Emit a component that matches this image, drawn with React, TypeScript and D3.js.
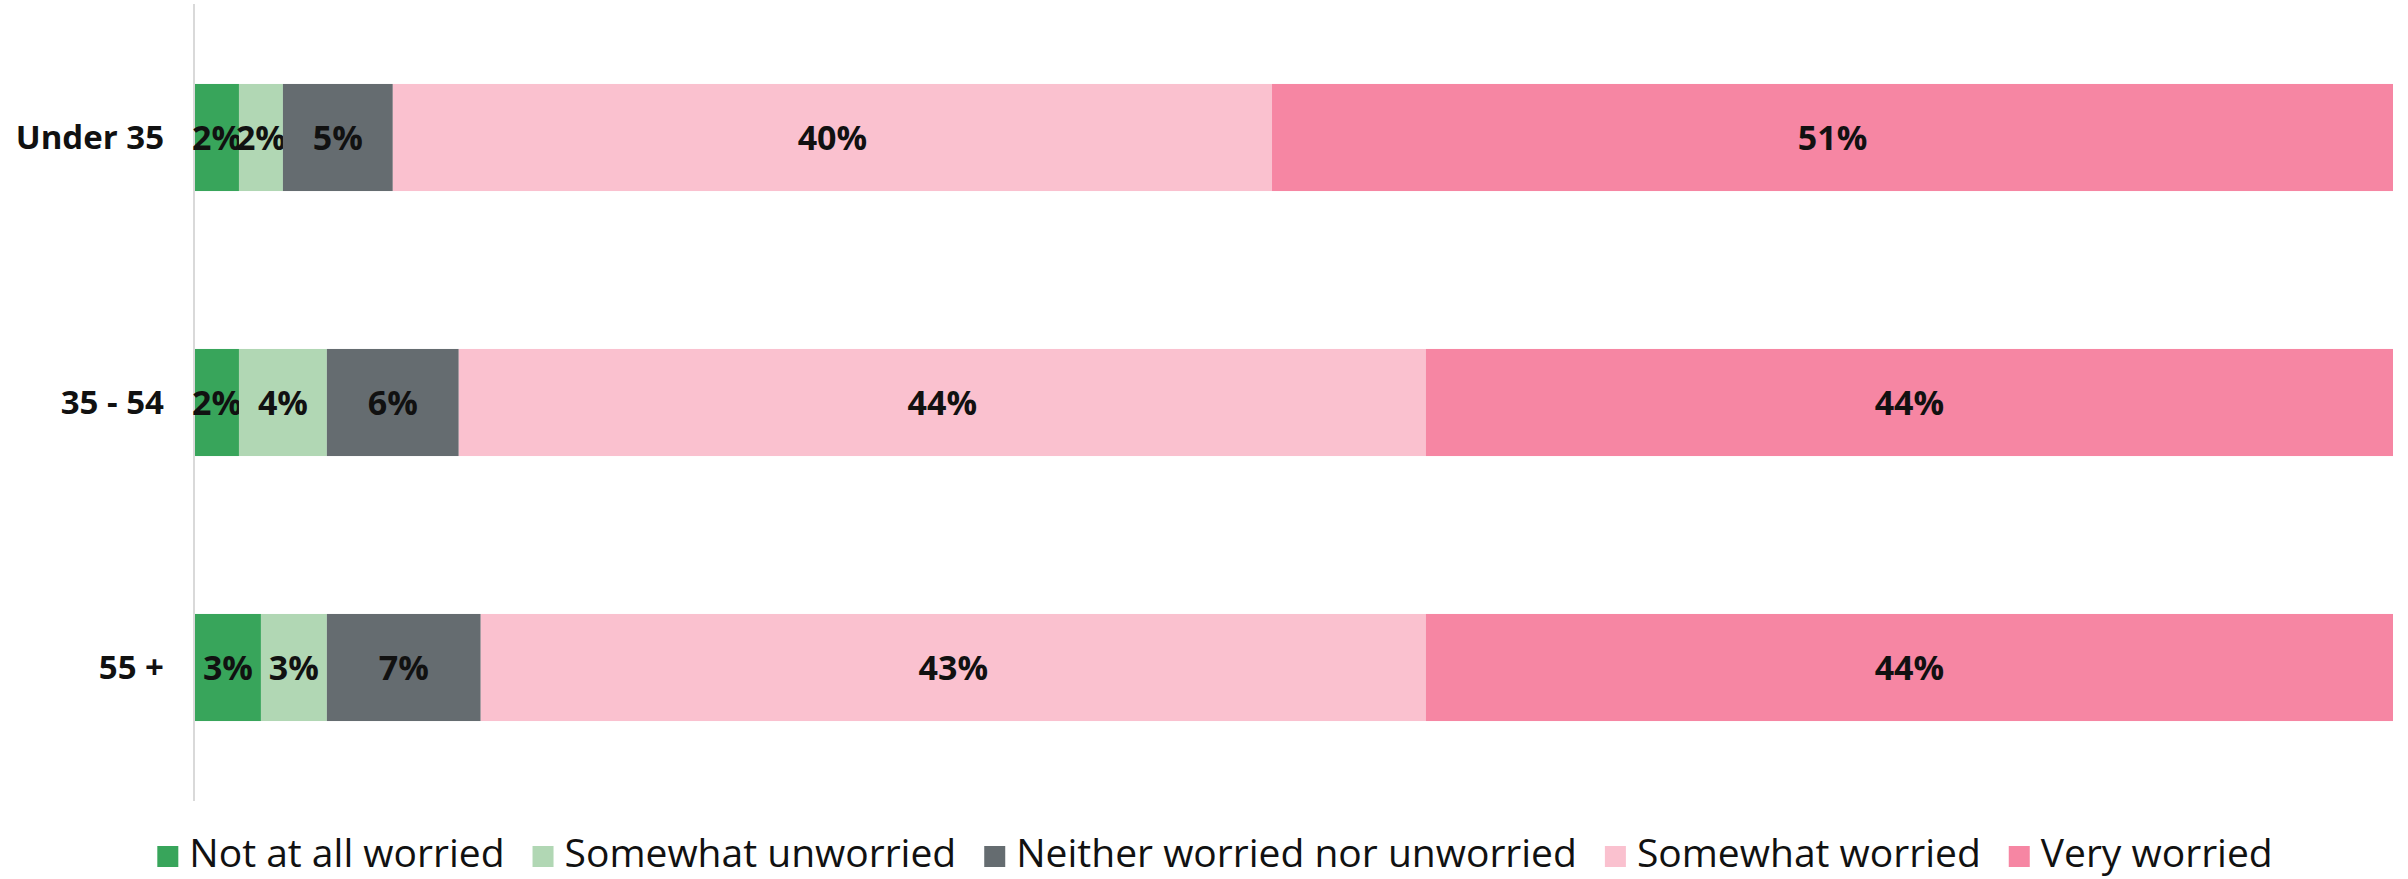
import React, { useEffect, useRef } from "react";
import * as d3 from "d3";

const categories = ["Under 35", "35 - 54", "55 +"];
const seriesNames = [
  "Not at all worried",
  "Somewhat unworried",
  "Neither worried nor unworried",
  "Somewhat worried",
  "Very worried",
];
const notAtAll = [2, 2, 3];
const somewhatUnworried = [2, 4, 3];
const neither = [5, 6, 7];
const somewhatWorried = [40, 44, 43];
const veryWorried = [51, 44, 44];
const colors = ["#38a55b", "#b1d7b4", "#656c70", "#fac1cf", "#f686a3"];

const W = 2408;
const H = 879;

export default function App() {
  const ref = useRef<SVGSVGElement>(null);
  useEffect(() => {
    const svg = d3.select(ref.current);
    svg.selectAll("*").remove();
    const series = [notAtAll, somewhatUnworried, neither, somewhatWorried, veryWorried];
    const x = d3.scaleLinear().domain([0, 100]).range([195, 2393]);
    const y = d3
      .scaleBand<string>()
      .domain(categories)
      .range([5, 800])
      .paddingInner(0.596)
      .paddingOuter(0.298);

    svg
      .append("line")
      .attr("x1", 194)
      .attr("x2", 194)
      .attr("y1", 4)
      .attr("y2", 801)
      .attr("stroke", "#d9d9d9")
      .attr("stroke-width", 2);

    categories.forEach((cat, ci) => {
      let acc = 0;
      series.forEach((s, si) => {
        const v = s[ci];
        const x0 = x(acc);
        const x1 = x(acc + v);
        acc += v;
        svg
          .append("rect")
          .attr("x", x0)
          .attr("y", y(cat)!)
          .attr("width", x1 - x0)
          .attr("height", y.bandwidth())
          .attr("fill", colors[si]);
        svg
          .append("text")
          .attr("x", (x0 + x1) / 2)
          .attr("y", y(cat)! + y.bandwidth() / 2)
          .attr("dy", "0.36em")
          .attr("text-anchor", "middle")
          .attr("font-family", "'Open Sans', sans-serif")
          .attr("font-weight", 700)
          .attr("font-size", 34)
          .attr("fill", "#111")
          .text(v + "%");
      });
      svg
        .append("text")
        .attr("x", 164)
        .attr("y", y(cat)! + y.bandwidth() / 2)
        .attr("dy", "0.36em")
        .attr("text-anchor", "end")
        .attr("font-family", "'Open Sans', sans-serif")
        .attr("font-weight", 700)
        .attr("font-size", 33)
        .attr("fill", "#111")
        .text(cat);
    });

    const lg = svg.append("g");
    let cx = 0;
    seriesNames.forEach((name, i) => {
      const g = lg.append("g").attr("transform", `translate(${cx},0)`);
      g.append("rect")
        .attr("x", 0)
        .attr("y", 846)
        .attr("width", 21)
        .attr("height", 21)
        .attr("fill", colors[i]);
      const t = g
        .append("text")
        .attr("x", 32)
        .attr("y", 867)
        .attr("font-family", "'Open Sans', sans-serif")
        .attr("font-size", 39)
        .attr("fill", "#111")
        .text(name);
      const w = (t.node() as SVGTextElement).getComputedTextLength();
      cx += 32 + w + 28;
    });
    const total = cx - 28;
    lg.attr("transform", `translate(${(144 + 2286) / 2 - total / 2},0)`);
  }, []);
  return (
    <svg
      ref={ref}
      width={W}
      height={H}
      style={{ position: "absolute", left: 0, top: 0, background: "#fff" }}
    />
  );
}
